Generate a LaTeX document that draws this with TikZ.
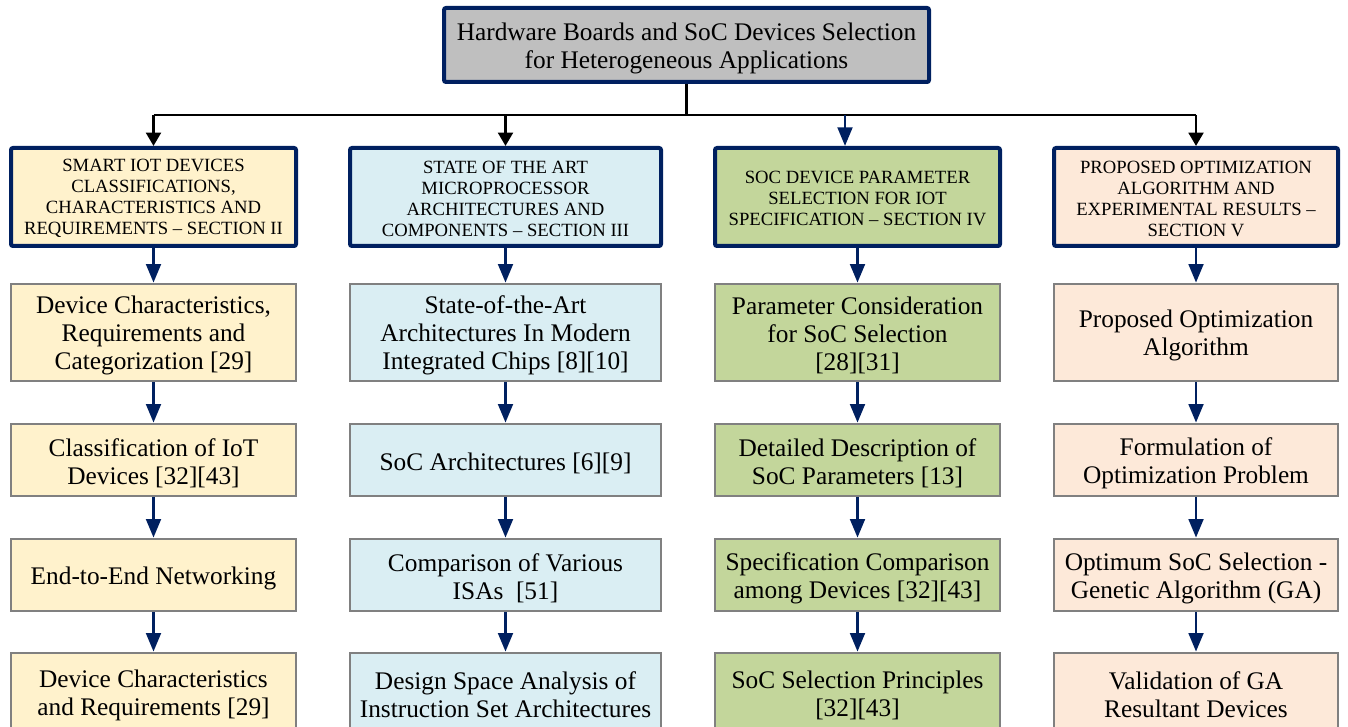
\documentclass[tikz,border=0pt]{standalone}
\usepackage{fontspec}
\setmainfont{Liberation Serif}
\usetikzlibrary{arrows.meta}
\definecolor{navy}{HTML}{002060}
\definecolor{topgray}{HTML}{BFBFBF}
\definecolor{boxgray}{HTML}{808080}
\definecolor{cyellow}{HTML}{FFF2CC}
\definecolor{cblue}{HTML}{DAEEF3}
\definecolor{cgreen}{HTML}{C3D69B}
\definecolor{cpeach}{HTML}{FDE9D9}
\newcommand\lift{}
\begin{document}
\begin{tikzpicture}[x=0.75pt,y=-0.75pt,
  base/.style={align=center, inner sep=0pt, text=black},
  lowtext/.style={execute at begin node={\def\lift{\rule{0pt}{#1}}}},
  topbox/.style={base, draw=navy, line width=3pt, fill=topgray, rounded corners=1.5pt,
    minimum width=485*0.75pt, minimum height=74*0.75pt, font=\fontsize{19}{21}\selectfont, lowtext=19pt},
  secbox/.style={base, draw=navy, line width=3pt, rounded corners=1.5pt,
    minimum height=98*0.75pt, font=\fontsize{14}{15.75}\selectfont, lowtext=11.8pt},
  subbox/.style={base, draw=boxgray, line width=2pt, font=\fontsize{19}{21}\selectfont, lowtext=17.6pt},
  navyarrow/.style={draw=navy, line width=2.2pt, -{Triangle[width=11pt,length=14pt]}},
  blackarrow/.style={draw=black, line width=2.2pt, -{Triangle[width=11pt,length=10pt]}},
  blackline/.style={draw=black, line width=2.2pt},
  w1/.style={minimum width=285*0.75pt},
  w2/.style={minimum width=311*0.75pt},
  w3/.style={minimum width=285*0.75pt},
  w4/.style={minimum width=284*0.75pt},
  h1/.style={minimum height=97*0.75pt},
  h2/.style={minimum height=72*0.75pt},
  h4/.style={minimum height=78*0.75pt},
]
\useasboundingbox (0,0) rectangle (1348,727);

% top
\node[topbox] (top) at (686.5,45) {\lift Hardware Boards and SoC Devices Selection\\for Heterogeneous Applications};

% section boxes
\node[secbox, w1, fill=cyellow] (s1) at (153.5,197) {\lift SMART IOT DEVICES\\CLASSIFICATIONS,\\CHARACTERISTICS AND\\REQUIREMENTS -- SECTION II};
\node[secbox, w2, fill=cblue] (s2) at (505.5,197) {\lift STATE OF THE ART\\MICROPROCESSOR\\ARCHITECTURES AND\\COMPONENTS -- SECTION III};
\node[secbox, w3, fill=cgreen] (s3) at (857.5,197) {\lift SOC DEVICE PARAMETER\\SELECTION FOR IOT\\SPECIFICATION -- SECTION IV};
\node[secbox, w4, fill=cpeach] (s4) at (1196,197) {\lift PROPOSED OPTIMIZATION\\ALGORITHM AND\\EXPERIMENTAL RESULTS --\\SECTION V};

% row 1
\node[subbox, w1, h1, fill=cyellow] (a1) at (153.5,332.5) {\lift Device Characteristics,\\Requirements and\\Categorization [29]};
\node[subbox, w2, h1, fill=cblue] (b1) at (505.5,332.5) {\lift State-of-the-Art\\Architectures In Modern\\Integrated Chips [8][10]};
\node[subbox, w3, h1, fill=cgreen] (c1) at (857.5,332.5) {\lift Parameter Consideration\\for SoC Selection\\{[28][31]}};
\node[subbox, w4, h1, fill=cpeach] (d1) at (1196,332.5) {\lift Proposed Optimization\\Algorithm};

% row 2
\node[subbox, w1, h2, fill=cyellow] (a2) at (153.5,460) {\lift Classification of IoT\\Devices [32][43]};
\node[subbox, w2, h2, fill=cblue] (b2) at (505.5,460) {\lift SoC Architectures [6][9]};
\node[subbox, w3, h2, fill=cgreen] (c2) at (857.5,460) {\lift Detailed Description of\\SoC Parameters [13]};
\node[subbox, w4, h2, fill=cpeach] (d2) at (1196,460) {\lift Formulation of\\Optimization Problem};

% row 3
\node[subbox, w1, h2, fill=cyellow] (a3) at (153.5,575) {\lift End-to-End Networking};
\node[subbox, w2, h2, fill=cblue] (b3) at (505.5,575) {\lift Comparison of Various\\ISAs~~[51]};
\node[subbox, w3, h2, fill=cgreen] (c3) at (857.5,575) {\lift Specification Comparison\\among Devices [32][43]};
\node[subbox, w4, h2, fill=cpeach] (d3) at (1196,575) {\lift Optimum SoC Selection -\\Genetic Algorithm (GA)};

% row 4
\node[subbox, w1, h4, fill=cyellow] (a4) at (153.5,692) {\lift Device Characteristics\\and Requirements [29]};
\node[subbox, w2, h4, fill=cblue] (b4) at (505.5,692) {\lift Design Space Analysis of\\Instruction Set Architectures};
\node[subbox, w3, h4, fill=cgreen] (c4) at (857.5,692) {\lift SoC Selection Principles\\{[32][43]}};
\node[subbox, w4, h4, fill=cpeach] (d4) at (1196,692) {\lift Validation of GA\\Resultant Devices};

% bus
\coordinate (bus) at (686.5,115);
\coordinate (bus3) at (845,115);
\draw[blackline] (top.south) -- (bus);
\draw[blackline] (s1.north |- bus) -- (s4.north |- bus);
\draw[blackarrow] (s1.north |- bus) -- (s1.north);
\draw[blackarrow] (s2.north |- bus) -- (s2.north);
\draw[navyarrow] (bus3) -- (s3.north -| bus3);
\draw[blackarrow] (s4.north |- bus) -- (s4.north);

% column arrows
\foreach \c/\s in {a/s1,b/s2,c/s3,d/s4}{
  \draw[navyarrow] (\s.south) -- (\c1.north);
  \draw[navyarrow] (\c1.south) -- (\c2.north);
  \draw[navyarrow] (\c2.south) -- (\c3.north);
  \draw[navyarrow] (\c3.south) -- (\c4.north);
}
\end{tikzpicture}
\end{document}
